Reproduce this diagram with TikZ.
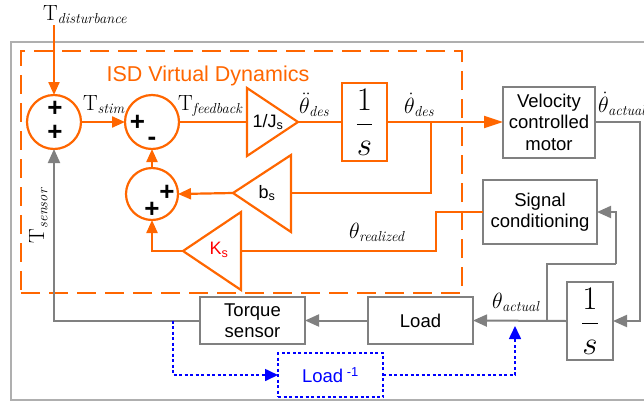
\documentclass[tikz,border=0pt]{standalone}
\usepackage{fix-cm}
\usepackage[no-math]{fontspec}
\newfontfamily\arial{Liberation Sans}
\usetikzlibrary{arrows.meta}
\definecolor{org}{RGB}{255,102,0}
\definecolor{gry}{RGB}{128,128,128}
\definecolor{frm}{RGB}{175,175,175}
\definecolor{blu}{RGB}{0,0,255}
\definecolor{kred}{RGB}{255,0,0}
\newcommand{\lsub}[1]{_{\mbox{\fontsize{14.5}{14.5}\selectfont\itshape #1}}}
\begin{document}
\begin{tikzpicture}[x=1pt,y=-1pt,
  every node/.style={inner sep=0pt, outer sep=0pt},
  sumnode/.style={circle, draw=org, line width=2.2pt, minimum size=54pt},
  obox/.style={draw=org, line width=2.2pt, rectangle},
  gbox/.style={draw=gry, line width=2pt, rectangle, font=\arial\fontsize{18.5}{21.5}\selectfont, align=center},
  bbox/.style={draw=blu, line width=1.6pt, dash pattern=on 3pt off 2.5pt, rectangle, text=blu, font=\arial\fontsize{18.5}{21.5}\selectfont},
  oline/.style={draw=org, line width=2.2pt},
  oarr/.style={oline, -{Triangle[length=13pt,width=11pt]}},
  gline/.style={draw=gry, line width=2pt},
  garr/.style={gline, -{Triangle[length=14pt,width=12pt]}},
  barr/.style={draw=blu, line width=1.6pt, dash pattern=on 3pt off 2.5pt, -{Triangle[length=13pt,width=12pt]}},
  lab/.style={font=\fontsize{22}{22}\selectfont, anchor=base west},
  sgn/.style={font=\arial\bfseries\fontsize{26}{26}\selectfont},
  tri/.style={draw=org, line width=2.2pt, line join=miter},
  tritext/.style={font=\arial\fontsize{18}{18}\selectfont},
  frac/.style={font=\fontsize{33}{33}\selectfont}
]
\useasboundingbox (0,0) rectangle (644,402);
% outer frame
\draw[frm, line width=1.4pt] (644,42) -- (11,42) -- (11,400) -- (644,400);
% ISD dashed box
\node[draw=org, line width=2pt, dash pattern=on 19pt off 9pt, minimum width=441pt, minimum height=242pt] (isdbox) at (241.5,172) {};
\node[font=\arial\fontsize{21.5}{22}\selectfont, text=org, anchor=base] (isd) at (208,81) {ISD Virtual Dynamics};

% summing junctions
\node[sumnode] (s1) at (54,122) {};
\node[sumnode] (s2) at (152,122) {};
\node[sumnode, minimum size=52pt] (s3) at (152,194) {};
\node[sgn] (s1a) at (55,109) {+};
\node[sgn] (s1b) at (55,133) {+};
\node[sgn] (s2a) at (137.5,123) {+};
\node[sgn] (s2b) at (152,141) {-};
\node[sgn] (s3a) at (167,193) {+};
\node[sgn] (s3b) at (152,210) {+};

% triangles
\coordinate (tJi) at (247,122);
\coordinate (tJo) at (298,122);
\draw[tri] (247,88) -- (tJo) -- (247,156) -- cycle;
\node[tritext] (tJ) at (268,122) {1/J\textsubscript{s}};

\coordinate (bsi) at (291,193);
\coordinate (bso) at (233,193);
\draw[tri] (291,155) -- (bso) -- (291,232) -- cycle;
\node[tritext] (bs) at (267,193) {b\textsubscript{s}};

\coordinate (ksi) at (241,251);
\coordinate (kso) at (183,251);
\draw[tri] (241,212) -- (kso) -- (241,290) -- cycle;
\node[tritext, text=kred] (ks) at (219,250) {K\textsubscript{s}};

% integrators
\node[obox, frac, minimum width=45pt, minimum height=78pt] (int1) at (364.5,122) {$\displaystyle\frac{1}{s}$};
\node[draw=gry, line width=2pt, frac, minimum width=46pt, minimum height=78pt] (int2) at (590,321) {$\displaystyle\frac{1}{s}$};

% blocks
\node[gbox, minimum width=92pt, minimum height=71pt] (vel) at (549,122) {Velocity\\controlled\\motor};
\node[gbox, minimum width=114pt, minimum height=64pt] (sig) at (540,212) {Signal\\conditioning};
\node[gbox, minimum width=105pt, minimum height=47pt] (load) at (420.5,320.5) {Load};
\node[gbox, minimum width=105pt, minimum height=47pt] (torq) at (252.5,320.5) {Torque\\sensor};
\node[bbox, minimum width=105pt, minimum height=44pt] (linv) at (330.5,375) {Load\textsuperscript{ -1}};

% labels
\node[lab] (ltd) at (43,20) {$\mathrm{T}\lsub{disturbance}$};
\node[lab] (lts) at (83,110) {$\mathrm{T}\lsub{stim}$};
\node[lab] (ltf) at (178,110) {$\mathrm{T}\lsub{feedback}$};
\node[lab] (lad) at (299,113) {$\ddot{\theta}\lsub{des}$};
\node[lab] (lvd) at (404,113) {$\dot{\theta}\lsub{des}$};
\node[lab] (lva) at (598,112) {$\dot{\theta}\lsub{actual}$};
\node[lab] (lre) at (349,238) {$\theta\lsub{realized}$};
\node[lab] (lpa) at (492,308) {$\theta\lsub{actual}$};
\node[lab, rotate=90] (ltsen) at (44,243) {$\mathrm{T}\lsub{sensor}$};

% orange connectors
\coordinate (tdist) at (54,25);
\draw[oarr] (tdist) -- (s1.north);
\draw[oarr] (s1.east) -- (s2.west);
\draw[oline] (s2.east) -- (tJi);
\draw[oline] (tJo) -- (int1.west);
\draw[oline, -{Triangle[length=19pt,width=12pt]}] (int1.east) -- (vel.west);
\coordinate (brO) at (431,122);
\draw[oline] (brO) |- (bsi);
\draw[oarr] (bso) -- (s3.east);
\draw[oarr] (s3.north) -- (s2.south);
\draw[oarr] (kso) -| (s3.south);
\coordinate (ksbend) at (436,251);
\draw[oline] (sig.west) -| (ksbend) -- (ksi);

% gray connectors
\coordinate (rc) at (640,321);
\draw[garr] (vel.east) -| (rc) -- (int2.east);
\draw[garr] (int2.west) -- (load.east);
\coordinate (brA) at (547,321);
\coordinate (brB) at (616,264);
\draw[gline] (brA) |- (brB);
\draw[garr] (brB) |- (sig.east);
\draw[garr] (load.west) -- (torq.east);
\draw[garr] (torq.west) -| (s1.south);

% blue dotted connectors
\coordinate (bl1) at (173,320.5);
\draw[barr] (bl1) |- (linv.west);
\coordinate (bl2) at (515,326);
\draw[barr] (linv.east) -| (bl2);
\end{tikzpicture}
\end{document}
